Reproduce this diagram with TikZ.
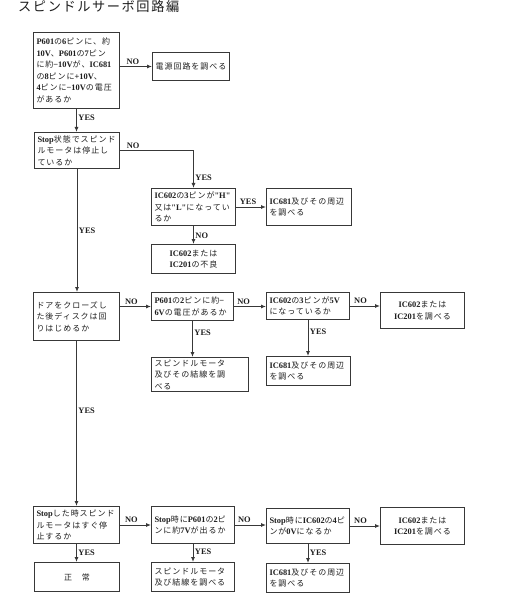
\documentclass[tikz,border=0pt]{standalone}
\usepackage{fontspec}
\usetikzlibrary{arrows.meta}
\setmainfont{Liberation Serif}
\newfontfamily\lt{Liberation Serif}[Scale=1.05]
\newfontfamily\jp{Noto Sans CJK JP}[LetterSpace=12]
\definecolor{ink}{HTML}{1E1E1E}
\definecolor{edge}{HTML}{383838}
\XeTeXinterchartokenstate=1
\newXeTeXintercharclass\jpclass
\newcount\jpchar
\def\setjprange#1#2{\jpchar=#1 \loop\XeTeXcharclass\jpchar=\jpclass \ifnum\jpchar<#2 \advance\jpchar by 1 \repeat}
\setjprange{"3000}{"30FF}
\setjprange{"4E00}{"9FFF}
\setjprange{"FF00}{"FFEF}
\XeTeXinterchartoks 0 \jpclass = {\jp\mdseries}
\XeTeXinterchartoks 4095 \jpclass = {\jp\mdseries}
\XeTeXinterchartoks \jpclass 0 = {\lt\bfseries}
\XeTeXinterchartoks 4095 0 = {\lt\bfseries}
\tikzset{
  flowbox/.style={draw=edge,line width=1pt,fill=white,anchor=north west,align=left,inner xsep=3pt,inner ysep=2pt,text=ink,font=\fontsize{8}{11.5}\selectfont\lt\bfseries},
  endbox/.style={flowbox,align=center},
  arrow/.style={-{Latex[length=5pt,width=4pt]},line width=0.9pt,draw=edge},
  ans/.style={font=\fontsize{8}{9}\selectfont\lt\bfseries,text=ink,inner sep=1.5pt}
}
\begin{document}
\begin{tikzpicture}[x=1pt,y=-1pt]
  \useasboundingbox[fill=white] (0,0) rectangle (518,612);

  \node[anchor=west,inner sep=0pt,text=ink,font=\fontsize{13.2}{13}\selectfont] (title) at (18,6) {スピンドルサーボ回路編};

  \node[flowbox,text width=80pt,minimum height=76pt] (qpower) at (33,32) {P601の6ピンに、約\\10V、P601の7ピン\\に約−10Vが、IC681\\の8ピンに+10V、\\4ピンに−10Vの電圧\\があるか};
  \node[endbox,text width=71pt,minimum height=28pt] (rpower) at (152,52) {電源回路を調べる};

  \node[flowbox,text width=79pt,minimum height=36pt] (qstop) at (34,132) {Stop状態でスピンド\\ルモータは停止し\\ているか};
  \node[flowbox,text width=78pt,minimum height=37pt] (qhl) at (151,188) {IC602の3ピンが"H"\\又は"L"になってい\\るか};
  \node[flowbox,text width=79pt,minimum height=37pt] (rperiph) at (266,188) {IC681及びその周辺\\を調べる};
  \node[endbox,text width=78pt,minimum height=29pt] (rbad) at (151,244) {IC602または\\IC201の不良};

  \node[flowbox,text width=80pt,minimum height=48pt] (qdoor) at (33,292) {ドアをクローズし\\た後ディスクは回\\りはじめるか};
  \node[flowbox,text width=76pt,minimum height=28pt] (qsix) at (151,292) {P601の2ピンに約−\\6Vの電圧があるか};
  \node[flowbox,text width=77pt,minimum height=27pt] (qfive) at (266,292) {IC602の3ピンが5V\\になっているか};
  \node[endbox,text width=78pt,minimum height=36pt] (rcheck) at (380,292) {IC602または\\IC201を調べる};
  \node[flowbox,text width=91pt,minimum height=33pt] (rmotor) at (151,357) {スピンドルモータ\\及びその結線を調\\べる};
  \node[flowbox,text width=78pt,minimum height=29pt] (rperiph2) at (266,356) {IC681及びその周辺\\を調べる};

  \node[flowbox,text width=80pt,minimum height=37pt] (qbrake) at (33,506) {Stopした時スピンド\\ルモータはすぐ停\\止するか};
  \node[flowbox,text width=77pt,minimum height=37pt] (qseven) at (151,506) {Stop時にP601の2ピ\\ンに約7Vが出るか};
  \node[flowbox,text width=77pt,minimum height=35pt] (qzero) at (266,508) {Stop時にIC602の4ピ\\ンが0Vになるか};
  \node[endbox,text width=78pt,minimum height=37pt] (rcheck2) at (380,507) {IC602または\\IC201を調べる};
  \node[endbox,text width=79pt,minimum height=29pt] (rnormal) at (34,562) {正　常};
  \node[flowbox,text width=77pt,minimum height=29pt] (rmotor2) at (151,562) {スピンドルモータ\\及び結線を調べる};
  \node[flowbox,text width=77pt,minimum height=29pt] (rperiph3) at (266,563) {IC681及びその周辺\\を調べる};

  \draw[arrow] (qpower.east |- rpower.west) -- node[ans,above,pos=0.4] (a1) {NO} (rpower.west);
  \draw[arrow] (qpower.south) -- node[ans,right,pos=0.4] (a2) {YES} (qpower.south |- qstop.north);
  \draw[arrow] (qstop.east) -| node[ans,above,pos=0.09] (a3) {NO} node[ans,right,pos=0.86] (a4) {YES} (qhl.north);
  \draw[arrow] (qhl.east) -- node[ans,above,pos=0.4] (a5) {YES} (rperiph.west);
  \draw[arrow] (qhl.south) -- node[ans,right,pos=0.55] (a6) {NO} (rbad.north);
  \draw[arrow] (qstop.south) -- node[ans,right,pos=0.5] (a7) {YES} (qstop.south |- qdoor.north);

  \draw[arrow] (qdoor.east |- qsix.west) -- node[ans,above,pos=0.37] (a8) {NO} (qsix.west);
  \draw[arrow] (qsix.east) -- node[ans,above,pos=0.3] (a9) {NO} (qsix.east -| qfive.west);
  \draw[arrow] (qfive.east) -- node[ans,above,pos=0.35] (a10) {NO} (qfive.east -| rcheck.west);
  \draw[arrow] (qsix.south) -- node[ans,right,pos=0.33] (a11) {YES} (qsix.south |- rmotor.north);
  \draw[arrow] (qfive.south) -- node[ans,right,pos=0.33] (a12) {YES} (qfive.south |- rperiph2.north);
  \draw[arrow] (qdoor.south) -- node[ans,right,pos=0.42] (a13) {YES} (qdoor.south |- qbrake.north);

  \draw[arrow] (qbrake.east) -- node[ans,above,pos=0.37] (a14) {NO} (qseven.west);
  \draw[arrow] (qseven.east) -- node[ans,above,pos=0.3] (a15) {NO} (qseven.east -| qzero.west);
  \draw[arrow] (qzero.east) -- node[ans,above,pos=0.35] (a16) {NO} (qzero.east -| rcheck2.west);
  \draw[arrow] (qbrake.south) -- node[ans,right,pos=0.5] (a17) {YES} (qbrake.south |- rnormal.north);
  \draw[arrow] (qseven.south) -- node[ans,right,pos=0.45] (a18) {YES} (qseven.south |- rmotor2.north);
  \draw[arrow] (qzero.south) -- node[ans,right,pos=0.45] (a19) {YES} (qzero.south |- rperiph3.north);
\end{tikzpicture}
\end{document}
